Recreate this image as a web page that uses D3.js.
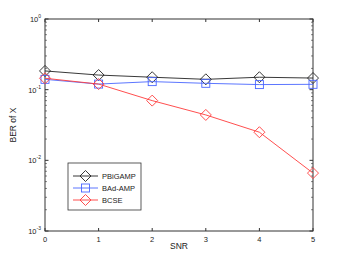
<!DOCTYPE html>
<html>
<head>
<meta charset="utf-8">
<script src="https://cdn.jsdelivr.net/npm/d3@7"></script>
<style>
  body { margin: 0; background: #fff; }
  svg { font-family: "Liberation Sans", Arial, sans-serif; }
</style>
</head>
<body>
<div id="chart"></div>
<script>
var snr = [0, 1, 2, 3, 4, 5];
var pbigamp = [0.184, 0.161, 0.150, 0.140, 0.150, 0.146];
var badamp = [0.140, 0.120, 0.130, 0.123, 0.118, 0.119];
var bcse = [0.145, 0.120, 0.070, 0.0439, 0.0250, 0.0066];
var xTicks = [0, 1, 2, 3, 4, 5];
var yDecades = [-3, -2, -1, 0];

var series = [
  { name: "PBiGAMP", values: pbigamp, color: "#222", marker: "diamond" },
  { name: "BAd-AMP", values: badamp, color: "#4a66ff", marker: "square" },
  { name: "BCSE", values: bcse, color: "#ff3b3b", marker: "diamond" }
];

var W = 346, H = 261;
var margin = { left: 45, right: 33, top: 19, bottom: 30 };

var svg = d3.select("#chart").append("svg")
    .attr("width", W)
    .attr("height", H);

var x = d3.scaleLinear().domain([0, 5]).range([margin.left, W - margin.right]);
var y = d3.scaleLog().domain([1e-3, 1]).range([H - margin.bottom, margin.top]);

var axisColor = "#333";

// box
svg.append("rect")
    .attr("x", x(0)).attr("y", y(1))
    .attr("width", x(5) - x(0)).attr("height", y(1e-3) - y(1))
    .attr("fill", "#fff").attr("stroke", axisColor).attr("stroke-width", 1);

// x ticks (inside, top and bottom)
xTicks.forEach(function(t) {
  svg.append("line").attr("x1", x(t)).attr("x2", x(t))
    .attr("y1", y(1e-3)).attr("y2", y(1e-3) - 3).attr("stroke", axisColor);
  svg.append("line").attr("x1", x(t)).attr("x2", x(t))
    .attr("y1", y(1)).attr("y2", y(1) + 3).attr("stroke", axisColor);
  svg.append("text").attr("x", x(t)).attr("y", y(1e-3) + 11)
    .attr("text-anchor", "middle").attr("font-size", 7.5).attr("fill", "#222")
    .text(t);
});

// y ticks, major + minor
yDecades.forEach(function(e) {
  var v = Math.pow(10, e);
  [x(0), x(5)].forEach(function(px, i) {
    var dir = i === 0 ? 1 : -1;
    svg.append("line").attr("x1", px).attr("x2", px + dir * 3.5)
      .attr("y1", y(v)).attr("y2", y(v)).attr("stroke", axisColor);
    if (e < 0) {
      for (var m = 2; m <= 9; m++) {
        svg.append("line").attr("x1", px).attr("x2", px + dir * 2)
          .attr("y1", y(m * v)).attr("y2", y(m * v))
          .attr("stroke", axisColor).attr("stroke-width", 0.6);
      }
    }
  });
  var lab = svg.append("text").attr("x", x(0) - 4).attr("y", y(v) + 3)
    .attr("text-anchor", "end").attr("font-size", 7.5).attr("fill", "#222");
  lab.append("tspan").text("10");
  lab.append("tspan").attr("dy", -4).attr("font-size", 5).text(e);
});

// axis labels
svg.append("text").attr("x", (x(0) + x(5)) / 2).attr("y", 249)
  .attr("text-anchor", "middle").attr("font-size", 8.5).attr("fill", "#222").text("SNR");
svg.append("text")
  .attr("transform", "translate(16," + ((y(1) + y(1e-3)) / 2) + ") rotate(-90)")
  .attr("text-anchor", "middle").attr("font-size", 8.5).attr("fill", "#222").text("BER of X");

var line = d3.line()
    .x(function(d, i) { return x(snr[i]); })
    .y(function(d) { return y(d); });

function drawMarker(g, type, cx, cy, color) {
  if (type === "diamond") {
    g.append("path")
      .attr("d", "M" + cx + "," + (cy - 5.5) + "L" + (cx + 5.5) + "," + cy +
                 "L" + cx + "," + (cy + 5.5) + "L" + (cx - 5.5) + "," + cy + "Z")
      .attr("fill", "none").attr("stroke", color).attr("stroke-width", 0.9);
  } else {
    g.append("rect").attr("x", cx - 4).attr("y", cy - 4)
      .attr("width", 8).attr("height", 8)
      .attr("fill", "none").attr("stroke", color).attr("stroke-width", 0.9);
  }
}

series.forEach(function(s) {
  var g = svg.append("g");
  g.append("path").datum(s.values).attr("d", line)
    .attr("fill", "none").attr("stroke", s.color).attr("stroke-width", 0.9);
  s.values.forEach(function(v, i) {
    drawMarker(g, s.marker, x(snr[i]), y(v), s.color);
  });
});

// legend
var lg = svg.append("g");
lg.append("rect").attr("x", 68).attr("y", 163).attr("width", 73).attr("height", 47)
  .attr("fill", "#fff").attr("stroke", axisColor).attr("stroke-width", 0.8);
series.forEach(function(s, i) {
  var ly = 176 + i * 12;
  lg.append("line").attr("x1", 73).attr("x2", 98).attr("y1", ly).attr("y2", ly)
    .attr("stroke", s.color).attr("stroke-width", 0.9);
  drawMarker(lg, s.marker, 85.5, ly, s.color);
  lg.append("text").attr("x", 102).attr("y", ly + 3).attr("font-size", 7.5)
    .attr("fill", "#222").text(s.name);
});
</script>
</body>
</html>
